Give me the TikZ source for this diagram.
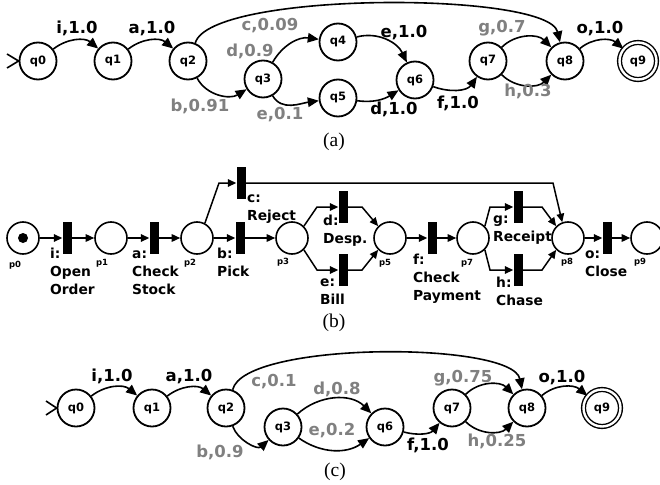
\documentclass[tikz,border=0pt]{standalone}
\usepackage{fontspec}
\setmainfont{Liberation Serif}
\setsansfont{DejaVu Sans}
\usetikzlibrary{arrows.meta}
\definecolor{probgray}{RGB}{128,128,128}

\begin{document}
\begin{tikzpicture}[x=1pt,y=-1pt,
  every node/.style={inner sep=0pt},
  state/.style={circle,draw,line width=1.8pt,minimum size=37pt,
    font=\sffamily\bfseries\fontsize{11.5}{12}\selectfont},
  accepting/.style={state,double,double distance=2.4pt,line width=1.4pt},
  arr/.style={line width=1.6pt,-{Triangle[length=11pt,width=9.5pt]}},
  initmark/.style={line width=1.6pt},
  lab/.style={anchor=base,font=\sffamily\bfseries\fontsize{16.5}{18}\selectfont},
  glab/.style={lab,text=probgray},
  place/.style={circle,draw,line width=1.6pt,minimum size=32pt},
  trans/.style={fill=black,minimum width=9pt,minimum height=32pt},
  parr/.style={line width=1.5pt,-{Triangle[length=8.5pt,width=7.5pt]}},
  tlab/.style={anchor=north west,align=left,
    font=\sffamily\bfseries\fontsize{13.8}{18}\selectfont},
  plab/.style={font=\sffamily\bfseries\fontsize{8.5}{9}\selectfont},
  caption/.style={font=\fontsize{19.5}{20}\selectfont}
]
\useasboundingbox (0,0) rectangle (660,484);

% ---------------- (a) automaton ----------------
\node[state] (a0) at (38,61) {q0};
\node[state] (a1) at (113,61) {q1};
\node[state] (a2) at (188,61) {q2};
\node[state] (a3) at (263,79) {q3};
\node[state] (a4) at (338,42) {q4};
\node[state] (a5) at (338,98) {q5};
\node[state] (a6) at (415,80) {q6};
\node[state] (a7) at (488,61) {q7};
\node[state] (a8) at (565,61) {q8};
\node[accepting] (a9) at (638,61) {q9};

\coordinate (ai1) at (7,54);
\coordinate (ai2) at (7,68);
\draw[initmark] (ai1) -- (a0.west) -- (ai2);

\draw[arr] (a0) to[out=38,in=140] (a1);
\draw[arr] (a1) to[out=38,in=140] (a2);
\draw[arr] (a2.68) .. controls (210,-9) and (548,-9) .. (a8.105);
\draw[arr] (a2) to[out=-62,in=212] (a3);
\draw[arr] (a3) to[out=60,in=172] (a4);
\draw[arr] (a3) to[out=-60,in=188] (a5);
\draw[arr] (a4) to[out=15,in=115] (a6);
\draw[arr] (a5) to[out=-8,in=212] (a6);
\draw[arr] (a6) to[out=-20,in=235] (a7);
\draw[arr] (a7) to[out=45,in=135] (a8);
\draw[arr] (a7) to[out=-45,in=-135] (a8);
\draw[arr] (a8) to[out=40,in=140] (a9);

\node[lab]  (la-i) at (77,34)  {i,1.0};
\node[lab]  (la-a) at (152,34) {a,1.0};
\node[glab] (la-c) at (270,31) {c,0.09};
\node[glab] (la-d) at (250,57) {d,0.9};
\node[glab] (la-b) at (200,111) {b,0.91};
\node[glab] (la-e) at (280,119) {e,0.1};
\node[lab]  (la-e2) at (404,38) {e,1.0};
\node[lab]  (la-d2) at (394,114) {d,1.0};
\node[lab]  (la-f) at (458,108) {f,1.0};
\node[glab] (la-g) at (502,33) {g,0.7};
\node[glab] (la-h) at (528,96) {h,0.3};
\node[lab]  (la-o) at (600,34) {o,1.0};

\node[caption] (capa) at (334,142) {(a)};

% ---------------- (b) Petri net ----------------
\node[place] (p0) at (23,238) {};
\fill (p0.center) circle (5pt);
\node[trans] (ti) at (67,238) {};
\node[place] (p1) at (111,238) {};
\node[trans] (ta) at (154,238) {};
\node[place] (p2) at (197,238) {};
\node[trans] (tb) at (240,238) {};
\node[trans] (tc) at (241,183) {};
\node[place] (p3) at (292,238) {};
\node[trans] (td) at (343,207) {};
\node[trans] (te) at (343,270) {};
\node[place] (p5) at (390,238) {};
\node[trans] (tf) at (432,238) {};
\node[place] (p7) at (473,238) {};
\node[trans] (tg) at (518,207) {};
\node[trans] (th) at (518,270) {};
\node[place] (p8) at (568,238) {};
\node[trans] (to) at (607,238) {};
\node[place] (p9) at (647,238) {};

\coordinate (kc1) at (219,183);
\coordinate (kc2) at (553,183);
\coordinate (kd1) at (317,207);
\coordinate (kd2) at (362,207);
\coordinate (ke1) at (317,270);
\coordinate (ke2) at (362,270);
\coordinate (kg1) at (490,207);
\coordinate (kg2) at (542,207);
\coordinate (kh1) at (490,270);
\coordinate (kh2) at (542,270);

\draw[parr] (p0) -- (ti);
\draw[parr] (ti) -- (p1);
\draw[parr] (p1) -- (ta);
\draw[parr] (ta) -- (p2);
\draw[parr] (p2) -- (tb);
\draw[parr] (tb) -- (p3);
\draw[parr] (p2.62) -- (kc1) -- (tc);
\draw[parr] (tc) -- (kc2) -- (p8.110);
\draw[parr] (p3.45) -- (kd1) -- (td);
\draw[parr] (td) -- (kd2) -- (p5.135);
\draw[parr] (p3.-45) -- (ke1) -- (te);
\draw[parr] (te) -- (ke2) -- (p5.-135);
\draw[parr] (p5) -- (tf);
\draw[parr] (tf) -- (p7);
\draw[parr] (p7.45) -- (kg1) -- (tg);
\draw[parr] (tg) -- (kg2) -- (p8.135);
\draw[parr] (p7.-45) -- (kh1) -- (th);
\draw[parr] (th) -- (kh2) -- (p8.-135);
\draw[parr] (p8) -- (to);
\draw[parr] (to) -- (p9);

\node[tlab] (li) at (50,245.4)  {\strut i:\\Open\\Order};
\node[tlab] (la) at (132,245.4) {\strut a:\\Check\\Stock};
\node[tlab] (lb) at (217,245.4) {\strut b:\\Pick};
\node[tlab] (lc) at (247,189.4) {\strut c:\\Reject};
\node[tlab] (ld) at (323,212.4) {\strut d:\\Desp.};
\node[tlab] (le) at (320,273.4) {\strut e:\\Bill};
\node[tlab] (lf) at (413,251.4) {\strut f:\\Check\\Payment};
\node[tlab] (lg) at (493,210.4) {\strut g:\\Receipt};
\node[tlab] (lh) at (496,274.4) {\strut h:\\Chase};
\node[tlab] (lo) at (585,245.4) {\strut o:\\Close};

\node[plab] (lp0) at (15,265) {p0};
\node[plab] (lp1) at (102,263) {p1};
\node[plab] (lp2) at (190,263) {p2};
\node[plab] (lp3) at (283,262) {p3};
\node[plab] (lp5) at (385,263) {p5};
\node[plab] (lp7) at (467,263) {p7};
\node[plab] (lp8) at (567,262) {p8};
\node[plab] (lp9) at (640,262) {p9};

\node[caption] (capb) at (334,323) {(b)};

% ---------------- (c) automaton ----------------
\node[state] (c0) at (76,408) {q0};
\node[state] (c1) at (152,408) {q1};
\node[state] (c2) at (226,408) {q2};
\node[state] (c3) at (283,427) {q3};
\node[state] (c6) at (385,427) {q6};
\node[state] (c7) at (452,408) {q7};
\node[state] (c8) at (527,408) {q8};
\node[accepting] (c9) at (602,408) {q9};

\coordinate (ci1) at (46,401);
\coordinate (ci2) at (46,415);
\draw[initmark] (ci1) -- (c0.west) -- (ci2);

\draw[arr] (c0) to[out=38,in=140] (c1);
\draw[arr] (c1) to[out=38,in=140] (c2);
\draw[arr] (c2.70) .. controls (244,341) and (512,341) .. (c8.105);
\draw[arr] (c2) to[out=-70,in=222] (c3);
\draw[arr] (c3) to[out=42,in=135] (c6);
\draw[arr] (c3) to[out=-35,in=215] (c6);
\draw[arr] (c6) to[out=-15,in=230] (c7);
\draw[arr] (c7) to[out=45,in=135] (c8);
\draw[arr] (c7) to[out=-45,in=-135] (c8);
\draw[arr] (c8) to[out=40,in=140] (c9);

\node[lab]  (lc-i) at (112,381) {i,1.0};
\node[lab]  (lc-a) at (189,381) {a,1.0};
\node[glab] (lc-c) at (274,386) {c,0.1};
\node[glab] (lc-d) at (337,394) {d,0.8};
\node[glab] (lc-e) at (332,435) {e,0.2};
\node[glab] (lc-b) at (220,457) {b,0.9};
\node[lab]  (lc-f) at (428,450) {f,1.0};
\node[glab] (lc-g) at (463,382) {g,0.75};
\node[glab] (lc-h) at (497,446) {h,0.25};
\node[lab]  (lc-o) at (562,382) {o,1.0};

\node[caption] (capc) at (335,472) {(c)};
\end{tikzpicture}
\end{document}
